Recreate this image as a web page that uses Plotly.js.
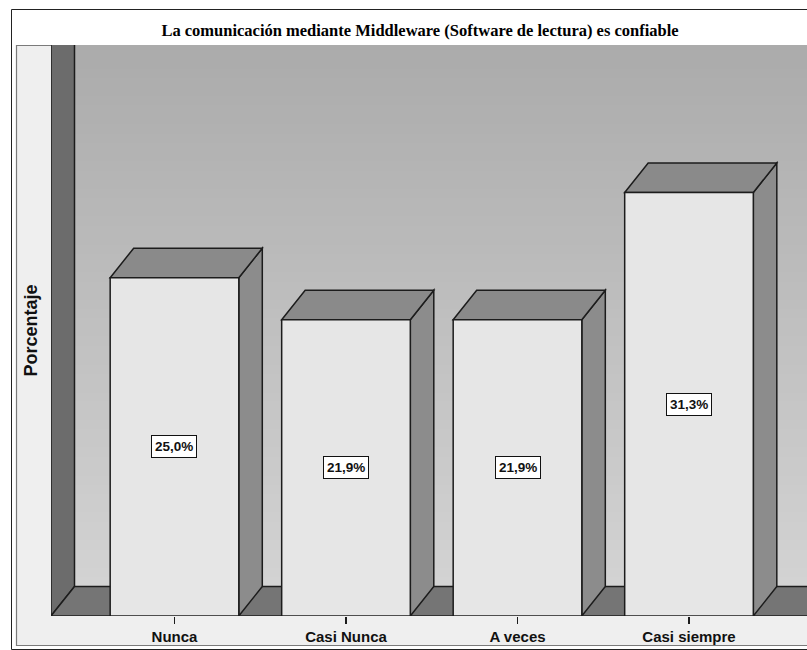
<!DOCTYPE html>
<html>
<head>
<meta charset="utf-8">
<script src="https://cdn.plot.ly/plotly-3.0.1.min.js"></script>
<style>
  html, body { margin: 0; padding: 0; background: #ffffff; }
  #chart { width: 807px; height: 650px; }
</style>
</head>
<body>
<div id="chart"></div>
<script>
// ---- data ----
const categories = ['Nunca', 'Casi Nunca', 'A veces', 'Casi siempre'];
const percentages = [25.0, 21.9, 21.9, 31.3];
const chartTitle = 'La comunicación mediante Middleware (Software de lectura) es confiable';
const yAxisTitle = 'Porcentaje';

// ---- geometry / style ----
const X_RANGE = [-0.72, 3.688];
const Y_RANGE = [0, 42.2];
const BAR_W = 0.75;          // bar width in category units
const DX = 0.137;            // depth offset along x (data units)
const DY = 2.18;             // depth offset along y (data units)
const EDGE = '#1c1c1c';
const EDGE_W = 1.5;
const SANS = 'Liberation Sans, Arial, sans-serif';

// plot-area box in pixels, used for paper-referenced frame decoration
const PL = 51, PW = 756, PT = 45, PH = 571;
const px = v => (v - PL) / PW;
const py = v => (PT + PH - v) / PH;

const xs = categories.map((_, i) => i);
const labelText = percentages.map(v => v.toFixed(1).replace('.', ',') + '%');

const shapes = [];

// outer border and light inner frame
shapes.push({type: 'rect', xref: 'paper', yref: 'paper', layer: 'below',
  x0: px(11.5), x1: px(840), y0: py(649.5), y1: py(9.5),
  line: {color: '#222', width: 1}, fillcolor: '#ffffff'});
shapes.push({type: 'rect', xref: 'paper', yref: 'paper', layer: 'below',
  x0: px(16.5), x1: px(840), y0: py(645.5), y1: py(45.5),
  line: {color: '#7a7a7a', width: 1.2}, fillcolor: '#efefef'});

// back wall: vertical gradient built from thin bands
const xL = X_RANGE[0], xR = X_RANGE[1] + 1, yT = Y_RANGE[1] + 1;
const BANDS = 60;
const cBottom = 0xd3, cTop = 0xaa;
for (let k = 0; k < BANDS; k++) {
  const t = (k + 0.5) / BANDS;
  const g = Math.round(cBottom + (cTop - cBottom) * t);
  const hex = '#' + g.toString(16).padStart(2, '0').repeat(3);
  shapes.push({type: 'rect', xref: 'x', yref: 'y', layer: 'below',
    x0: xL + DX, x1: xR,
    y0: DY + (yT - DY) * k / BANDS, y1: DY + (yT - DY) * (k + 1) / BANDS + 0.05,
    line: {width: 0}, fillcolor: hex});
}

// left side wall
shapes.push({type: 'path', xref: 'x', yref: 'y', layer: 'below',
  path: `M${xL},0 L${xL + DX},${DY} L${xL + DX},${yT} L${xL},${yT} Z`,
  fillcolor: '#6c6c6c', line: {color: EDGE, width: EDGE_W}});

// floor
shapes.push({type: 'path', xref: 'x', yref: 'y', layer: 'below',
  path: `M${xL},0 L${xR},0 L${xR + DX},${DY} L${xL + DX},${DY} Z`,
  fillcolor: '#757575', line: {color: EDGE, width: EDGE_W}});

// top and side faces of each bar
xs.forEach((x, i) => {
  const v = percentages[i];
  const l = x - BAR_W / 2, r = x + BAR_W / 2;
  shapes.push({type: 'path', xref: 'x', yref: 'y', layer: 'below',
    path: `M${r},0 L${r},${v} L${r + DX},${v + DY} L${r + DX},${DY} Z`,
    fillcolor: '#8c8c8c', line: {color: EDGE, width: EDGE_W}});
  shapes.push({type: 'path', xref: 'x', yref: 'y', layer: 'below',
    path: `M${l},${v} L${l + DX},${v + DY} L${r + DX},${v + DY} L${r},${v} Z`,
    fillcolor: '#8a8a8a', line: {color: EDGE, width: EDGE_W}});
});

// value labels in boxed tags at the middle of each bar
const annotations = xs.map((x, i) => ({
  x: x, y: percentages[i] / 2, xref: 'x', yref: 'y',
  text: labelText[i], showarrow: false,
  font: {family: SANS, size: 13.5, weight: 'bold', color: '#111'},
  bgcolor: '#ffffff', bordercolor: '#111', borderwidth: 1, borderpad: 3,
  xanchor: 'center', yanchor: 'middle'
}));

const trace = {
  type: 'bar',
  x: xs,
  y: percentages,
  width: BAR_W,
  marker: {color: '#e6e6e6', line: {color: EDGE, width: EDGE_W}},
  hoverinfo: 'skip'
};

const layout = {
  width: 807, height: 650,
  margin: {l: PL, r: 807 - PL - PW, t: PT, b: 650 - PT - PH, pad: 0},
  paper_bgcolor: '#ffffff',
  plot_bgcolor: 'rgba(0,0,0,0)',
  showlegend: false,
  title: {
    text: chartTitle,
    font: {family: 'Liberation Serif, Times New Roman, serif', size: 16.5, weight: 'bold', color: '#000'},
    x: 420 / 807, xref: 'container', xanchor: 'center',
    y: 1 - 30 / 650, yref: 'container', yanchor: 'middle'
  },
  xaxis: {
    range: X_RANGE, fixedrange: true,
    tickmode: 'array', tickvals: xs, ticktext: categories,
    ticks: 'outside', ticklen: 7, tickwidth: 1.5, tickcolor: EDGE,
    tickfont: {family: SANS, size: 15, weight: 'bold', color: '#111'},
    showgrid: false, zeroline: false, showline: false
  },
  yaxis: {
    range: Y_RANGE, fixedrange: true,
    showticklabels: false, ticks: '',
    showgrid: false, zeroline: false, showline: false,
    title: {
      text: yAxisTitle, standoff: 7,
      font: {family: SANS, size: 18, weight: 'bold', color: '#111'}
    }
  },
  shapes: shapes,
  annotations: annotations
};

Plotly.newPlot('chart', [trace], layout, {displayModeBar: false, staticPlot: true});
</script>
</body>
</html>
